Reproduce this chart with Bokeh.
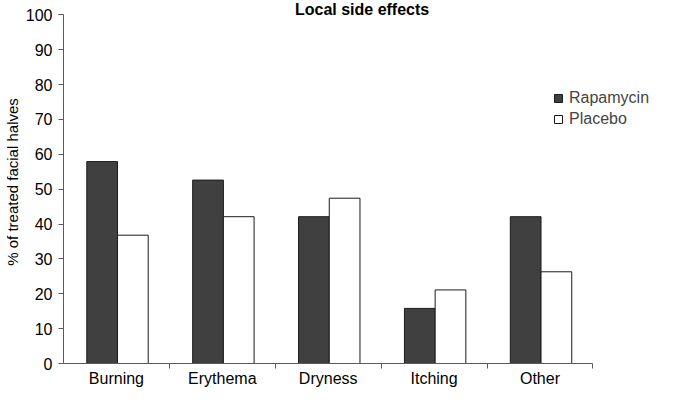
import numpy as np
from bokeh.plotting import figure
from bokeh.models import FixedTicker, ColumnDataSource, Legend, LegendItem, Range1d, Label
from bokeh.embed import file_html
from bokeh.resources import INLINE

categories = ["Burning", "Erythema", "Dryness", "Itching", "Other"]
rapamycin = [57.9, 52.6, 42.1, 15.8, 42.1]
placebo = [36.8, 42.1, 47.4, 21.1, 26.3]
y_ticks = [0, 10, 20, 30, 40, 50, 60, 70, 80, 90, 100]
title_text = "Local side effects"

FONT = "Liberation Sans"
n = len(categories)
idx = np.arange(n)
centers = idx + 0.5

src = ColumnDataSource(dict(
    x_r=centers - 0.135, x_p=centers + 0.155,
    rapamycin=rapamycin, placebo=placebo))

p = figure(width=657, height=389, output_backend="svg", toolbar_location=None,
           x_range=Range1d(0, 5.61), y_range=Range1d(0, 104.1),
           min_border_left=59, min_border_right=0, min_border_bottom=0, min_border_top=0)

r1 = p.vbar(x="x_r", top="rapamycin", width=0.29, source=src,
            fill_color="#404040", line_color="#1a1a1a", line_width=1)
r2 = p.vbar(x="x_p", top="placebo", width=0.29, source=src,
            fill_color="white", line_color="#1a1a1a", line_width=1)

p.xgrid.visible = False
p.ygrid.visible = False
p.outline_line_color = None

AX = "#5a5a5a"
xa = p.xaxis[0]
xa.bounds = (0, n)
xa.ticker = FixedTicker(ticks=list(centers), minor_ticks=list(idx[1:]) + [n])
xa.major_label_overrides = {float(c): name for c, name in zip(centers, categories)}
xa.major_tick_out = 0
xa.major_tick_in = 0
xa.minor_tick_out = 5
xa.minor_tick_in = 0
xa.axis_line_color = AX
xa.minor_tick_line_color = AX
xa.major_label_text_font = FONT
xa.major_label_text_font_size = "16px"
xa.major_label_text_color = "black"
xa.major_label_standoff = 1

ya = p.yaxis[0]
ya.bounds = (0, 100)
ya.ticker = FixedTicker(ticks=y_ticks, minor_ticks=[])
ya.major_tick_out = 5
ya.major_tick_in = 0
ya.axis_line_color = AX
ya.major_tick_line_color = AX
ya.major_label_text_font = FONT
ya.major_label_text_font_size = "16px"
ya.major_label_text_color = "black"
ya.major_label_standoff = 6
ya.axis_label = "% of treated facial halves"
ya.axis_label_text_font = FONT
ya.axis_label_text_font_size = "15px"
ya.axis_label_text_font_style = "normal"
ya.axis_label_text_color = "black"
ya.axis_label_standoff = 2

title = Label(x=2.82, y=104.0, text=title_text, text_font=FONT, text_font_size="16px",
              text_font_style="bold", text_align="center", text_baseline="top",
              text_color="black")
p.add_layout(title)

legend = Legend(items=[LegendItem(label="Rapamycin", renderers=[r1]),
                       LegendItem(label="Placebo", renderers=[r2])],
                location=(490, 235), orientation="vertical")
legend.border_line_color = None
legend.background_fill_alpha = 0
legend.glyph_width = 10
legend.glyph_height = 10
legend.label_standoff = 6
legend.spacing = 3
legend.padding = 0
legend.margin = 0
legend.label_text_font = FONT
legend.label_text_font_size = "16px"
legend.label_height = 16
p.add_layout(legend)

open("out.html", "w").write(file_html(p, INLINE))
